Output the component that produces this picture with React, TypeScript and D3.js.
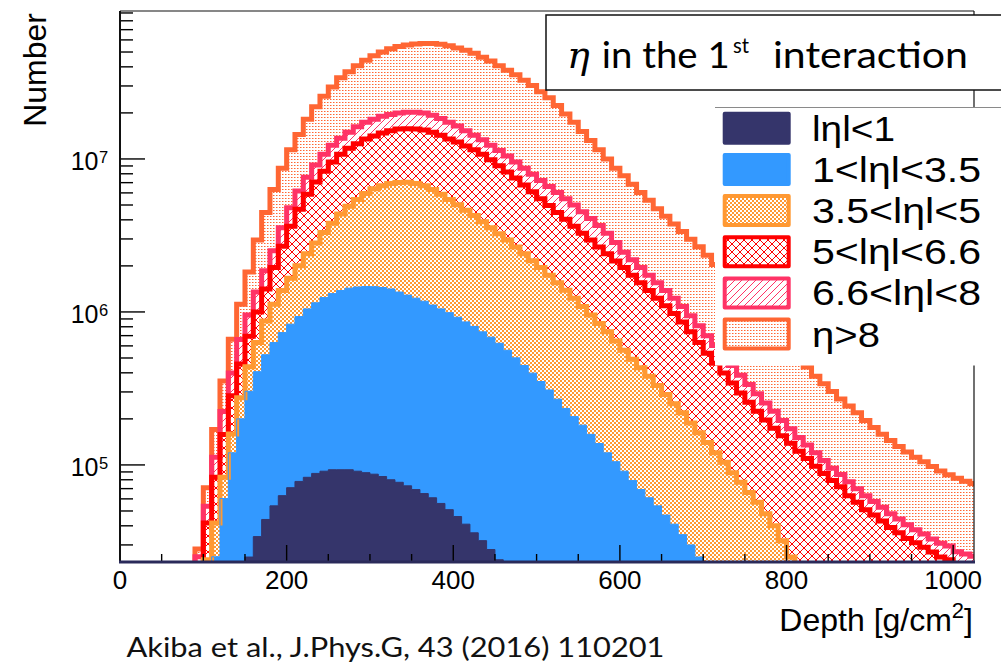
import React from 'react';
import * as d3 from 'd3';

// Depth binning of the histograms (g/cm^2)
const firstBinLow = 90;
const binWidth = 10;

// Particle counts per depth bin for each pseudorapidity range of the first interaction
const absEtaBelow1 = [
  0, 0, 0, 0, 0, 0, 2.5e4, 3.4e4, 4.4e4, 5.4e4,
  6.3e4, 7.1e4, 7.8e4, 8.3e4, 8.8e4, 9.1e4, 9.3e4, 9.3e4, 9.3e4, 9.1e4,
  8.9e4, 8.7e4, 8.4e4, 8.0e4, 7.7e4, 7.3e4, 6.9e4, 6.5e4, 6.1e4, 5.6e4,
  5.1e4, 4.6e4, 4.1e4, 3.6e4, 3.2e4, 2.8e4, 2.4e4, 0, 0, 0,
  0, 0, 0, 0, 0, 0, 0, 0, 0, 0,
  0, 0, 0, 0, 0, 0, 0, 0, 0, 0,
  0, 0, 0, 0, 0, 0, 0, 0, 0, 0,
  0, 0, 0, 0, 0, 0, 0, 0, 0, 0,
  0, 0, 0, 0, 0, 0, 0, 0, 0, 0,
  0, 0, 0, 0,
];
const absEta1to3p5 = [
  0, 0, 2.51e4, 6.03e4, 1.2e5, 2.0e5, 2.78e5, 3.73e5, 4.81e5, 5.77e5,
  6.7e5, 7.61e5, 8.55e5, 9.64e5, 1.06e6, 1.15e6, 1.225e6, 1.287e6, 1.337e6, 1.364e6,
  1.377e6, 1.375e6, 1.36e6, 1.333e6, 1.272e6, 1.215e6, 1.161e6, 1.11e6, 1.048e6, 9.91e5,
  9.38e5, 8.77e5, 8.2e5, 7.68e5, 7.09e5, 6.56e5, 6.0e5, 5.62e5, 5.01e5, 4.47e5,
  3.98e5, 3.51e5, 3.09e5, 2.69e5, 2.34e5, 2.07e5, 1.82e5, 1.585e5, 1.38e5, 1.2e5,
  1.05e5, 9.1e4, 7.9e4, 6.9e4, 6.1e4, 5.4e4, 4.7e4, 4.1e4, 3.5e4, 3.0e4,
  2.5e4, 0, 0, 0, 0, 0, 0, 0, 0, 0,
  0, 0, 0, 0, 0, 0, 0, 0, 0, 0,
  0, 0, 0, 0, 0, 0, 0, 0, 0, 0,
  0, 0, 0, 0,
];
const absEta3p5to5 = [
  0, 2.4e4, 1.66e4, 2.29e4, 3.9e4, 7.5e4, 1.35e5, 2.24e5, 3.46e5, 4.91e5,
  6.47e5, 8.28e5, 1.07e6, 1.35e6, 1.67e6, 2.07e6, 2.48e6, 2.985e6, 3.47e6, 3.975e6,
  4.49e6, 4.92e6, 5.235e6, 5.51e6, 5.68e6, 5.76e6, 5.69e6, 5.505e6, 5.2e6, 4.84e6,
  4.44e6, 4.09e6, 3.76e6, 3.47e6, 3.15e6, 2.87e6, 2.62e6, 2.39e6, 2.16e6, 1.95e6,
  1.76e6, 1.6e6, 1.43e6, 1.28e6, 1.15e6, 1.02e6, 9.02e5, 7.97e5, 7.03e5, 6.21e5,
  5.41e5, 4.71e5, 4.11e5, 3.63e5, 3.19e5, 2.77e5, 2.42e5, 2.1e5, 1.84e5, 1.58e5,
  1.37e5, 1.4e5, 1.2e5, 1.04e5, 8.9e4, 7.7e4, 6.6e4, 5.7e4, 4.8e4, 4.0e4,
  3.2e4, 2.5e4, 2.0e4, 1.6e4, 1.3e4, 1.0e4, 8.0e3, 6.0e3, 5.0e3, 4.0e3,
  3.0e3, 2.0e3, 0, 0, 0, 0, 0, 0, 0, 0,
  0, 0, 0, 0,
];
const absEta5to6p6 = [
  2.14e4, 1.77e4, 4.15e4, 7.5e4, 1.24e5, 1.82e5, 2.55e5, 3.69e5, 5.4e5, 8.3e5,
  1.31e6, 1.97e6, 2.68e6, 3.49e6, 4.26e6, 5.01e6, 5.75e6, 6.36e6, 6.85e6, 7.16e6,
  7.53e6, 7.75e6, 8.11e6, 8.38e6, 8.64e6, 8.73e6, 8.78e6, 8.81e6, 8.65e6, 8.41e6,
  8.06e6, 7.87e6, 7.54e6, 7.21e6, 6.83e6, 6.34e6, 5.78e6, 5.27e6, 4.84e6, 4.36e6,
  3.94e6, 3.545e6, 3.22e6, 2.92e6, 2.65e6, 2.4e6, 2.19e6, 2.0e6, 1.82e6, 1.66e6,
  1.51e6, 1.39e6, 1.25e6, 1.117e6, 1.0e6, 8.99e5, 8.08e5, 7.26e5, 6.42e5, 5.53e5,
  4.69e5, 3.97e5, 3.42e5, 2.95e5, 2.54e5, 2.18e5, 1.91e5, 1.67e5, 1.49e5, 1.34e5,
  1.23e5, 1.135e5, 1.03e5, 9.4e4, 8.5e4, 7.8e4, 7.1e4, 6.6e4, 5.8e4, 5.3e4,
  4.8e4, 4.5e4, 4.3e4, 3.9e4, 3.6e4, 3.3e4, 3.1e4, 2.9e4, 2.7e4, 2.5e4,
  2.4e4, 2.2e4, 2.1e4, 2.0e4,
];
const absEta6p6to8 = [
  3.7e3, 1.2e4, 2.9e4, 6.5e4, 1.16e5, 2.04e5, 2.63e5, 3.5e5, 4.5e5, 5.6e5,
  8.6e5, 1.16e6, 1.49e6, 1.7e6, 2.04e6, 2.4e6, 2.75e6, 2.93e6, 3.21e6, 3.63e6,
  3.89e6, 4.07e6, 4.26e6, 4.2e6, 4.28e6, 4.4e6, 4.5e6, 4.46e6, 4.34e6, 4.1e6,
  3.89e6, 3.52e6, 3.15e6, 2.81e6, 2.62e6, 2.41e6, 2.33e6, 2.25e6, 2.05e6, 1.95e6,
  1.84e6, 1.745e6, 1.655e6, 1.56e6, 1.47e6, 1.38e6, 1.25e6, 1.12e6, 1.01e6, 8.7e5,
  6.9e5, 5.05e5, 4.5e5, 4.0e5, 3.58e5, 3.19e5, 2.84e5, 2.53e5, 2.23e5, 2.03e5,
  1.82e5, 1.63e5, 1.41e5, 1.21e5, 1.04e5, 9.0e4, 7.8e4, 6.8e4, 5.7e4, 5.0e4,
  4.0e4, 3.4e4, 2.8e4, 2.5e4, 2.2e4, 1.9e4, 1.6e4, 1.45e4, 1.45e4, 1.3e4,
  1.18e4, 1.07e4, 9.8e3, 9.0e3, 8.3e3, 7.6e3, 6.7e3, 6.3e3, 5.8e3, 5.8e3,
  5.5e3, 5.1e3, 5.2e3, 5.3e3,
];
const etaAbove8 = [
  3.1e3, 1.71e4, 5.8e4, 1.31e5, 2.63e5, 4.61e5, 8.65e5, 1.6e6, 2.61e6, 3.8e6,
  5.16e6, 6.69e6, 8.28e6, 1.061e7, 1.278e7, 1.498e7, 1.72e7, 2.025e7, 2.22e7, 2.45e7,
  2.68e7, 2.91e7, 3.105e7, 3.3e7, 3.435e7, 3.54e7, 3.63e7, 3.695e7, 3.76e7, 3.78e7,
  3.757e7, 3.67e7, 3.6e7, 3.47e7, 3.29e7, 3.135e7, 2.935e7, 2.75e7, 2.595e7, 2.4e7,
  2.226e7, 2.03e7, 1.85e7, 1.636e7, 1.42e7, 1.237e7, 1.062e7, 9.11e6, 7.81e6, 6.73e6,
  5.86e6, 5.31e6, 4.65e6, 4.08e6, 3.63e6, 3.18e6, 2.84e6, 2.53e6, 2.27e6, 2.04e6,
  1.85e6, 1.644e6, 1.44e6, 1.26e6, 1.1e6, 9.64e5, 8.4e5, 7.31e5, 6.37e5, 5.52e5,
  4.81e5, 4.1e5, 3.5e5, 3.02e5, 2.6e5, 2.32e5, 2.065e5, 1.83e5, 1.65e5, 1.49e5,
  1.32e5, 1.18e5, 1.06e5, 9.66e4, 8.76e4, 8.09e4, 7.46e4, 6.96e4, 6.5e4, 6.03e4,
  5.69e4, 5.47e4, 5.19e4, 5.02e4,
];

const legendLabels = ['lηl<1', '1<lηl<3.5', '3.5<lηl<5', '5<lηl<6.6', '6.6<lηl<8', 'η>8'];
const depthTickLabels = [0, 200, 400, 600, 800, 1000];
const countTickValues = [1e5, 1e6, 1e7];
const countTickExponents = ['5', '6', '7'];
const depthDomain = [0, 1025];
const countDomain = [2.32e4, 9.27e7];

// Styling
const seriesColors = ['#35356b', '#3399ff', '#ff9933', '#ff0000', '#ff3366', '#ff6633'];
const seriesFills = ['#35356b', '#3399ff', 'url(#fillChecker)', 'url(#fillCross)', 'url(#fillHatch)', 'url(#fillDots)'];
const legendTextWidths = [83, 169, 169, 169, 169, 68];

const W = 1001;
const H = 664;
const plot = { left: 120, right: 974, top: 11, bottom: 562 };
const axisFont = "'Liberation Sans', Arial, Helvetica, sans-serif";
const noteFont = "Lato, 'Open Sans', sans-serif";

export default function App() {
  const series = [absEtaBelow1, absEta1to3p5, absEta3p5to5, absEta5to6p6, absEta6p6to8, etaAbove8];
  const nBins = etaAbove8.length;
  const edges = d3.range(nBins + 1).map((i) => firstBinLow + i * binWidth);

  const x = d3.scaleLinear().domain(depthDomain).range([plot.left, plot.right]);
  const y = d3.scaleLog().domain(countDomain).range([plot.bottom, plot.top]);
  const below = plot.bottom + 25;
  const yPix = (v: number) => (v > 0 ? Math.min(y(v), below) : below);

  const stacked = d3
    .stack<number, number>()
    .keys(d3.range(series.length))
    .value((i, k) => series[k][i])(d3.range(nBins));

  const topPoints = (k: number): [number, number][] => {
    const pts: [number, number][] = stacked[k].map((d, i) => [x(edges[i]), yPix(d[1])]);
    pts.push([x(edges[nBins]), yPix(stacked[k][nBins - 1][1])]);
    return pts;
  };

  const area = d3
    .area<[number, number]>()
    .x((d) => d[0])
    .y0(below)
    .y1((d) => d[1])
    .curve(d3.curveStepAfter);
  const outline = d3
    .line<[number, number]>()
    .x((d) => d[0])
    .y((d) => d[1])
    .curve(d3.curveStepAfter);

  const layerOrder = d3.range(series.length).reverse();

  // axis ticks
  const xTicks = d3.range(0, 1001, 50);
  const yMinor: number[] = [];
  for (let e = 4; e <= 7; e++) {
    for (let m = 2; m <= 9; m++) {
      const v = m * Math.pow(10, e);
      if (v >= countDomain[0] && v <= countDomain[1]) yMinor.push(v);
    }
  }

  const legendTop = 128.3;
  const legendStep = 41.15;

  return (
    <svg
      width={W}
      height={H}
      viewBox={`0 0 ${W} ${H}`}
      style={{ position: 'absolute', left: 0, top: 0, background: '#fff' }}
    >
      <defs>
        <clipPath id="plotClip">
          <rect x={plot.left} y={plot.top} width={plot.right - plot.left} height={plot.bottom - plot.top} />
        </clipPath>
        <pattern id="fillChecker" width="4" height="4" patternUnits="userSpaceOnUse">
          <rect width="4" height="4" fill="#fff" />
          <rect width="2" height="2" fill="#ff9933" />
          <rect x="2" y="2" width="2" height="2" fill="#ff9933" />
        </pattern>
        <pattern id="fillCross" width="8" height="8" patternUnits="userSpaceOnUse">
          <rect width="8" height="8" fill="#fff" />
          <path
            d="M0,0 L8,8 M8,0 L0,8 M-1,7 L1,9 M7,-1 L9,1 M-1,1 L1,-1 M7,9 L9,7"
            stroke="#ff0000"
            strokeWidth="1"
            shapeRendering="crispEdges"
          />
        </pattern>
        <pattern id="fillHatch" width="7" height="7" patternUnits="userSpaceOnUse">
          <rect width="7" height="7" fill="#fff" />
          <path d="M0,7 L7,0 M-1,1 L1,-1 M6,8 L8,6" stroke="#ff3366" strokeWidth="1" />
        </pattern>
        <pattern id="fillDots" width="3" height="3" patternUnits="userSpaceOnUse">
          <rect width="3" height="3" fill="#fff" />
          <rect width="1" height="1" fill="#ff6633" />
          <rect x="1" width="1" height="1" fill="#ffb399" />
        </pattern>
      </defs>

      <rect width={W} height={H} fill="#fff" />

      {/* stacked histogram fills, largest cumulative layer first */}
      <g clipPath="url(#plotClip)">
        {layerOrder.map((k) => (
          <path key={`fill-${k}`} d={area(topPoints(k)) || ''} fill={seriesFills[k]} />
        ))}
        {layerOrder.map((k) => {
          const pts = topPoints(k);
          const path: [number, number][] = [[pts[0][0], below], ...pts, [pts[pts.length - 1][0], below]];
          return (
            <path
              key={`line-${k}`}
              d={outline(path) || ''}
              fill="none"
              stroke={seriesColors[k]}
              strokeWidth={k >= 2 ? 5 : 1}
              strokeLinejoin="miter"
            />
          );
        })}
      </g>

      {/* x axis ticks */}
      {xTicks.map((v) => (
        <line
          key={`xt-${v}`}
          x1={x(v)}
          x2={x(v)}
          y1={plot.bottom}
          y2={plot.bottom - (v % 200 === 0 ? 17 : 8)}
          stroke="#000"
          strokeWidth={1.4}
        />
      ))}
      {/* y axis ticks */}
      {yMinor.map((v) => (
        <line key={`ym-${v}`} x1={plot.left} x2={plot.left + 13} y1={y(v)} y2={y(v)} stroke="#000" strokeWidth={1.4} />
      ))}
      {countTickValues.map((v) => (
        <line key={`yM-${v}`} x1={plot.left} x2={plot.left + 25} y1={y(v)} y2={y(v)} stroke="#000" strokeWidth={1.4} />
      ))}

      {/* frame */}
      <line x1={plot.left} x2={plot.right} y1={plot.top} y2={plot.top} stroke="#111" strokeWidth={1.2} />
      <line x1={plot.right} x2={plot.right} y1={plot.top} y2={plot.bottom} stroke="#111" strokeWidth={1.2} />
      <line x1={plot.left} x2={plot.left} y1={plot.top} y2={plot.bottom + 1} stroke="#111" strokeWidth={2} />
      <line x1={plot.left - 1} x2={plot.right + 1} y1={plot.bottom} y2={plot.bottom} stroke="#2a2a5a" strokeWidth={3} />

      {/* tick labels */}
      {depthTickLabels.map((v) => (
        <text key={`xl-${v}`} x={x(v)} y={588.5} textAnchor="middle" fontFamily={axisFont} fontSize={26} fill="#000">
          {v}
        </text>
      ))}
      {countTickValues.map((v, i) => (
        <g key={`yl-${v}`}>
          <text x={98.5} y={y(v) + 11.5} textAnchor="end" fontFamily={axisFont} fontSize={25} fill="#000">
            10
          </text>
          <text x={99} y={y(v) + 4.5} textAnchor="start" fontFamily={axisFont} fontSize={16.5} fill="#000">
            {countTickExponents[i]}
          </text>
        </g>
      ))}

      {/* axis titles */}
      <text x={973} y={631} textAnchor="end" fontFamily={axisFont} fontSize={32} fill="#000">
        Depth [g/cm
        <tspan dy={-12.7} fontSize={22}>2</tspan>
        <tspan dy={12.7}>]</tspan>
      </text>
      <text transform="translate(46,13) rotate(-90)" textAnchor="end" fontFamily={axisFont} fontSize={32} fill="#000">
        Number
      </text>

      {/* title box */}
      <rect x={546} y={15} width={480} height={75} fill="#fff" stroke="#111" strokeWidth={1.5} />
      <text x={567} y={68.3} fontFamily="'DejaVu Serif', 'Liberation Serif', serif" fontStyle="italic" fontSize={38} fill="#000">
        η
      </text>
      <text x={601.7} y={68.3} fontFamily={noteFont} fontSize={37} fill="#000" textLength={128} lengthAdjust="spacingAndGlyphs">
        in the 1
      </text>
      <text x={733} y={53} fontFamily={noteFont} fontSize={22} fill="#000" textLength={16} lengthAdjust="spacingAndGlyphs">
        st
      </text>
      <text x={773} y={68.3} fontFamily={noteFont} fontSize={37} fill="#000" textLength={195} lengthAdjust="spacingAndGlyphs">
        interaction
      </text>

      {/* legend */}
      <rect x={715} y={107.5} width={300} height={258} fill="#fff" />
      <line x1={715} x2={W} y1={107.5} y2={107.5} stroke="#8a8a8a" strokeWidth={1} />
      {legendLabels.map((label, k) => {
        const cy = legendTop + k * legendStep;
        return (
          <g key={`lg-${k}`}>
            <rect
              x={724.7}
              y={cy - 14.5}
              width={64}
              height={29}
              fill={seriesFills[k]}
              stroke={seriesColors[k]}
              strokeWidth={4}
              strokeLinejoin="round"
            />
            <text
              x={812}
              y={cy + 12.5}
              fontFamily={axisFont}
              fontSize={35}
              fill="#000"
              textLength={legendTextWidths[k]}
              lengthAdjust="spacingAndGlyphs"
            >
              {label}
            </text>
          </g>
        );
      })}

      {/* citation */}
      <text x={126.5} y={656.5} fontFamily={noteFont} fontSize={26} fill="#111" textLength={538} lengthAdjust="spacingAndGlyphs">
        Akiba et al., J.Phys.G, 43 (2016) 110201
      </text>
    </svg>
  );
}
